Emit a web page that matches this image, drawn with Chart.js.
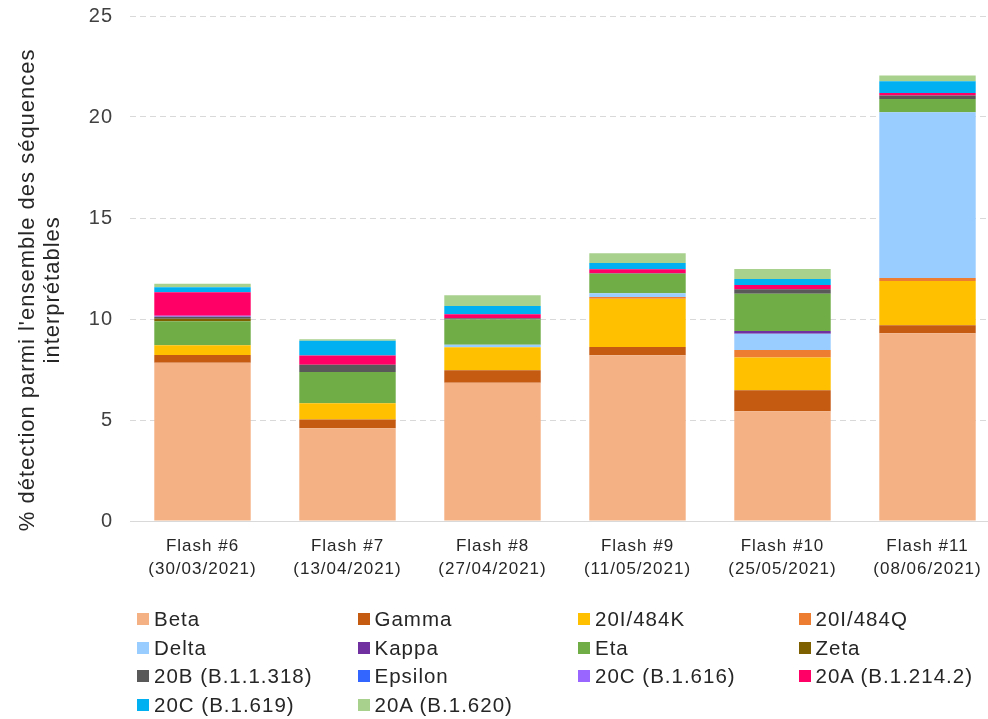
<!DOCTYPE html>
<html>
<head>
<meta charset="utf-8">
<script src="https://cdn.jsdelivr.net/npm/chart.js@4"></script>
<style>
  body { margin: 0; overflow: hidden; background: #fff; }
  #wrap { position: relative; width: 1001px; height: 719px; }
  #legend { position: absolute; left: 137px; top: 605px; display: grid;
            grid-template-columns: repeat(4, 220.5px); grid-auto-rows: 28.5px;
            font-family: "Liberation Sans", Arial, sans-serif; font-size: 20.5px;
            letter-spacing: 1px; color: #262626; }
  #legend div { display: flex; align-items: center; white-space: nowrap; }
  #legend span { display: inline-block; width: 12px; height: 12px; margin-right: 5px; }
</style>
</head>
<body>
<div id="wrap">
  <canvas id="chart" width="1001" height="719"></canvas>
  <div id="legend"></div>
</div>
<script>
// catégories (flashs) et valeurs
const flashes = ["Flash #6", "Flash #7", "Flash #8", "Flash #9", "Flash #10", "Flash #11"];
const dates = ["(30/03/2021)", "(13/04/2021)", "(27/04/2021)", "(11/05/2021)", "(25/05/2021)", "(08/06/2021)"];
const yTicks = [0, 5, 10, 15, 20, 25];

const beta       = [7.84, 4.59, 6.85, 8.20, 5.43, 9.29];
const gamma      = [0.38, 0.44, 0.61, 0.41, 1.04, 0.40];
const v484K      = [0.48, 0.80, 1.14, 2.39, 1.63, 2.19];
const v484Q      = [0, 0, 0, 0.09, 0.37, 0.15];
const delta      = [0, 0, 0.13, 0.18, 0.80, 8.20];
const kappa      = [0, 0, 0, 0, 0.14, 0];
const eta        = [1.19, 1.55, 1.25, 0.97, 1.84, 0.66];
const zeta       = [0.12, 0, 0, 0, 0, 0];
const b11318     = [0.10, 0.36, 0.06, 0.03, 0.22, 0.17];
const epsilon    = [0, 0, 0, 0, 0, 0];
const b1616      = [0.05, 0, 0, 0, 0, 0];
const b12142     = [1.16, 0.45, 0.20, 0.19, 0.21, 0.13];
const b1619      = [0.25, 0.73, 0.40, 0.31, 0.30, 0.58];
const b1620      = [0.17, 0.08, 0.54, 0.48, 0.50, 0.28];

const seriesNames = ["Beta", "Gamma", "20I/484K", "20I/484Q", "Delta", "Kappa", "Eta", "Zeta",
  "20B (B.1.1.318)", "Epsilon", "20C (B.1.616)", "20A (B.1.214.2)", "20C (B.1.619)", "20A (B.1.620)"];
const seriesData = [beta, gamma, v484K, v484Q, delta, kappa, eta, zeta,
  b11318, epsilon, b1616, b12142, b1619, b1620];
const seriesColors = ["#F4B183", "#C55A11", "#FFC000", "#ED7D31", "#99CCFF", "#7030A0", "#70AD47", "#7F6000",
  "#595959", "#3366FF", "#9966FF", "#FF0066", "#00B0F0", "#A9D18E"];

const FONT = "'Liberation Sans', Arial, sans-serif";

const datasets = seriesNames.map((name, i) => ({
    label: name,
    data: seriesData[i],
    backgroundColor: seriesColors[i],
    borderWidth: 0,
    categoryPercentage: 1,
    barPercentage: 0.665
}));

// le texte de l'original est un peu plus espacé
const spacing = {
    id: "spacing",
    beforeUpdate: chart => { chart.ctx.letterSpacing = "1px"; },
    beforeDraw: chart => { chart.ctx.letterSpacing = "1px"; }
};

new Chart(document.getElementById("chart"), {
    type: "bar",
    data: {
        labels: flashes.map((f, i) => [f, dates[i]]),
        datasets: datasets
    },
    plugins: [spacing],
    options: {
        responsive: false,
        animation: false,
        layout: { padding: { top: 16, right: 1, bottom: 128, left: 0 } },
        plugins: { legend: { display: false }, tooltip: { enabled: false } },
        scales: {
            x: {
                stacked: true,
                grid: { display: false, drawTicks: false },
                border: { color: "#D9D9D9", width: 1 },
                ticks: { color: "#262626", padding: 14, font: { family: FONT, size: 17, lineHeight: 1.35 } },
                afterFit: s => { s.height = 70; }
            },
            y: {
                stacked: true,
                min: 0, max: 25,
                afterBuildTicks: s => { s.ticks = yTicks.map(v => ({ value: v })); },
                grid: { color: "#D9D9D9", drawTicks: false },
                border: { display: false, dash: [6, 4] },
                ticks: { color: "#404040", padding: 17, font: { family: FONT, size: 20 } },
                title: {
                    display: true,
                    text: ["% détection parmi l'ensemble des séquences      ", "interprétables      "],
                    color: "#262626",
                    padding: { top: 15.5, bottom: 0 },
                    font: { family: FONT, size: 22, lineHeight: 1.14 }
                },
                afterFit: s => { s.width = 130; s.paddingTop = 12; s.paddingBottom = 12; }
            }
        }
    }
});

// légende sur 4 colonnes, comme l'original
const legend = document.getElementById("legend");
seriesNames.forEach((name, i) => {
    const item = document.createElement("div");
    item.innerHTML = '<span style="background:' + seriesColors[i] + '"></span>' + name;
    legend.appendChild(item);
});
</script>
</body>
</html>
